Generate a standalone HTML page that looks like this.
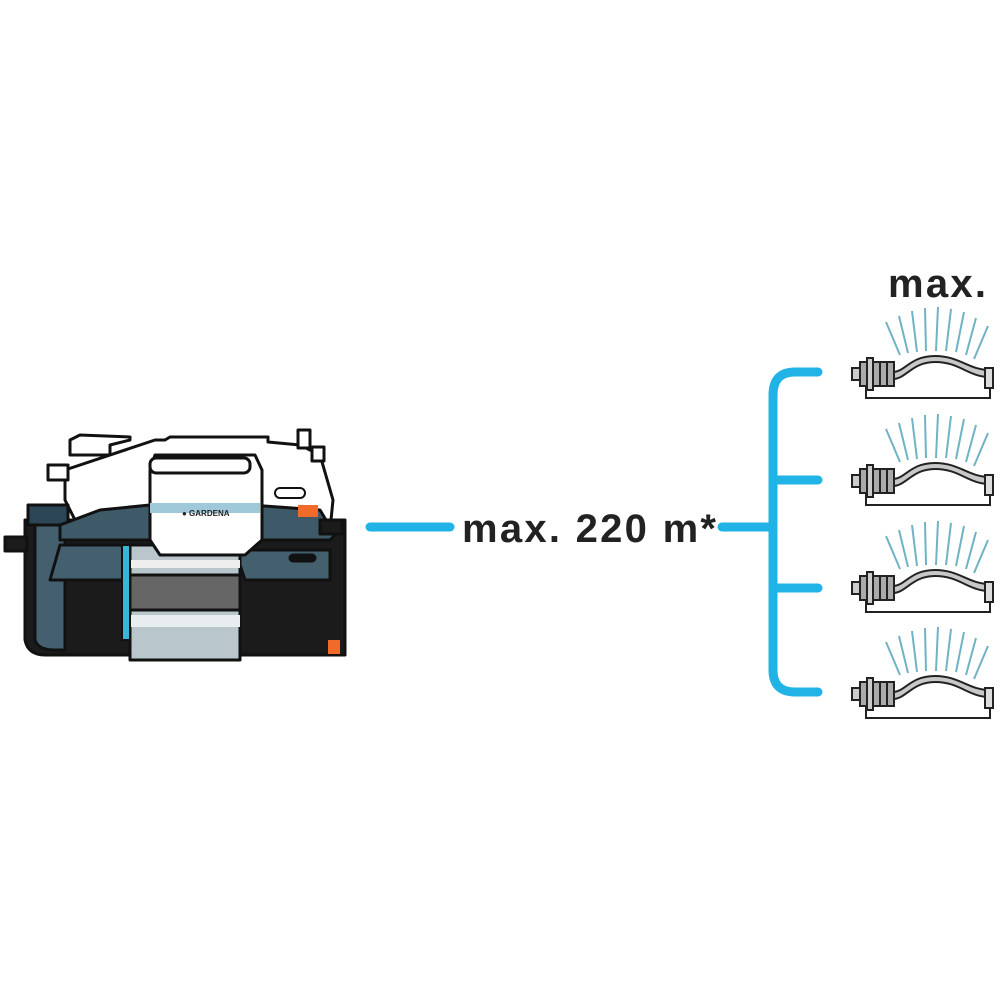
<!DOCTYPE html>
<html><head><style>body{margin:0;background:#fff}svg{display:block}</style></head><body>
<svg width="1000" height="1000" viewBox="0 0 1000 1000" xmlns="http://www.w3.org/2000/svg">
<defs>
<g id="spr">
  <g stroke="#6fb3c4" stroke-width="2" fill="none">
    <line x1="900" y1="355" x2="886" y2="322"/>
    <line x1="908" y1="353" x2="899" y2="316"/>
    <line x1="917" y1="352" x2="912" y2="311"/>
    <line x1="926" y1="351" x2="925" y2="308"/>
    <line x1="936" y1="351" x2="938" y2="307"/>
    <line x1="946" y1="351" x2="951" y2="309"/>
    <line x1="956" y1="352" x2="964" y2="312"/>
    <line x1="966" y1="355" x2="976" y2="318"/>
    <line x1="974" y1="359" x2="988" y2="326"/>
  </g>
  <path d="M866 385 L866 398 L990 398 L990 380" fill="none" stroke="#222" stroke-width="2"/>
  <path d="M893 372 C905 372 910 356 935 356 C960 356 968 370 990 370 L990 377 C968 377 960 362 935 362 C912 362 906 379 893 379 Z" fill="#c8c8c8" stroke="#222" stroke-width="2"/>
  <rect x="985" y="368" width="8" height="20" fill="#ddd" stroke="#222" stroke-width="2"/>
  <rect x="852" y="368" width="8" height="12" fill="#ccc" stroke="#222" stroke-width="2"/>
  <rect x="860" y="362" width="34" height="24" fill="#aaa" stroke="#222" stroke-width="2"/>
  <rect x="867" y="358" width="6" height="32" fill="#ccc" stroke="#222" stroke-width="2"/>
  <line x1="880" y1="362" x2="880" y2="386" stroke="#222" stroke-width="2"/>
  <line x1="887" y1="362" x2="887" y2="386" stroke="#222" stroke-width="2"/>
</g>
</defs>
<!-- pump -->
<g stroke="#111" stroke-width="3" stroke-linejoin="round">
  <path d="M70 440 L70 455 L110 455 L110 445 L130 440 L130 437 L80 435 Z" fill="#fff"/>
  <path d="M65 470 L155 440 L165 440 L170 437 L268 437 L268 442 L300 445 L320 455 L333 500 L330 530 L80 530 L65 500 Z" fill="#fff"/>
  <rect x="48" y="465" width="20" height="15" fill="#fff"/>
  <rect x="298" y="430" width="12" height="18" fill="#fff"/>
  <rect x="312" y="447" width="12" height="14" fill="#fff"/>
  <path d="M25 520 L25 640 Q28 655 45 655 L345 655 L345 520 Z" fill="#1b1b1b"/>
  <path d="M35 505 L35 640 Q38 650 55 650 L65 650 L65 505 Z" fill="#44606e"/>
  <rect x="28" y="505" width="40" height="20" fill="#2c4656"/>
  <path d="M60 525 L100 510 L150 505 L250 505 L320 510 L335 535 L330 540 L60 540 Z" fill="#3e5a68"/>
  <path d="M50 580 L150 580 L160 560 L120 545 L60 545 Z" fill="#44606e"/>
  <path d="M235 550 L330 550 L330 580 L245 580 Z" fill="#44606e"/>
  <rect x="130" y="545" width="110" height="115" fill="#b9c6cc"/>
  <rect x="130" y="575" width="110" height="35" fill="#666"/>
  <rect x="130" y="560" width="110" height="8" fill="#eee" stroke="none"/>
  <rect x="130" y="615" width="110" height="12" fill="#e8eef0" stroke="none"/>
  <rect x="122" y="545" width="8" height="95" fill="#38b6d8" stroke="#111" stroke-width="2"/>
  <path d="M150 470 L155 455 L255 455 L262 470 L262 540 L245 555 L160 555 L150 540 Z" fill="#fff"/>
  <rect x="150" y="458" width="100" height="15" rx="6" fill="#fff"/>
  <rect x="150" y="503" width="110" height="10" fill="#9fc8d8" stroke="none"/>
  <rect x="275" y="488" width="30" height="10" rx="5" fill="#fff" stroke-width="2"/>
  <rect x="5" y="537" width="22" height="14" fill="#1b1b1b"/>
  <rect x="320" y="520" width="22" height="14" fill="#1b1b1b"/>
  <rect x="290" y="555" width="25" height="6" rx="3" fill="#111"/>
</g>
<rect x="298" y="505" width="20" height="12" fill="#f06a2a"/>
<rect x="328" y="640" width="12" height="14" fill="#f06a2a"/>
<text x="182" y="516" font-family="Liberation Sans, sans-serif" font-size="8" font-weight="bold" fill="#222">● GARDENA</text>
<!-- connectors -->
<g stroke="#21b3e6" stroke-width="9" fill="none" stroke-linecap="round">
  <line x1="370" y1="527" x2="450" y2="527"/>
  <line x1="722" y1="527" x2="773" y2="527"/>
  <path d="M818 372 L795 372 Q773 372 773 395 L773 670 Q773 692 795 692 L818 692"/>
  <line x1="773" y1="480" x2="818" y2="480"/>
  <line x1="773" y1="588" x2="818" y2="588"/>
</g>
<text x="462" y="542" font-family="Liberation Sans, sans-serif" font-size="40" font-weight="bold" fill="#222" textLength="254">max. 220 m*</text>
<text x="888" y="297" font-family="Liberation Sans, sans-serif" font-size="40" font-weight="bold" fill="#222" textLength="98">max.</text>
<use href="#spr"/>
<use href="#spr" y="107"/>
<use href="#spr" y="214"/>
<use href="#spr" y="320"/>
</svg>
</body></html>
